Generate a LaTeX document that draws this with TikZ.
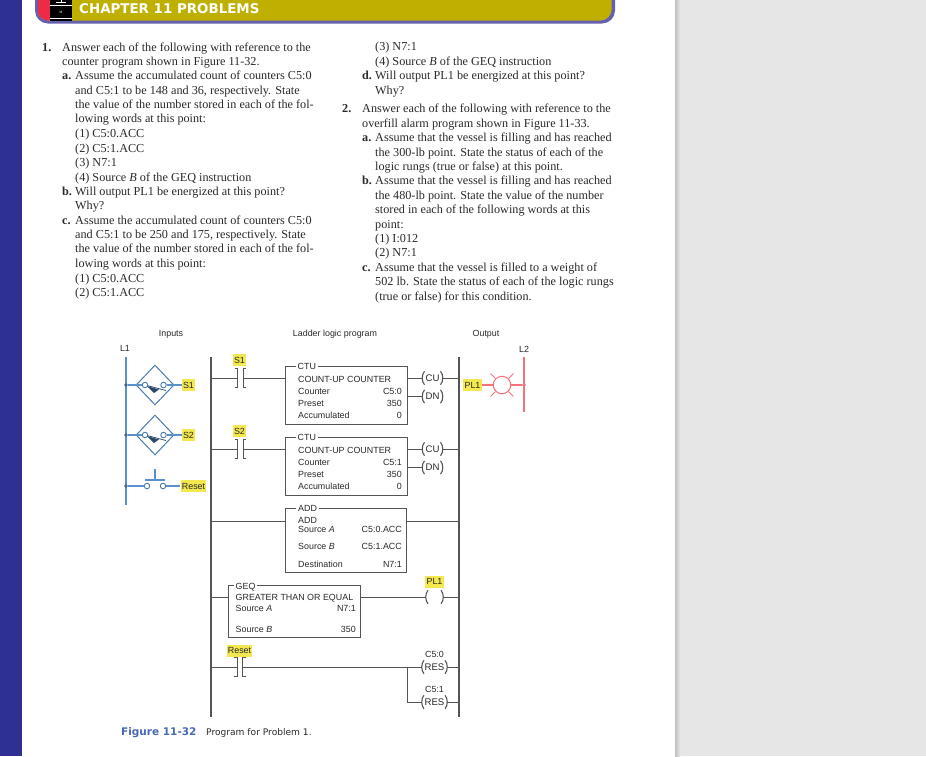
\documentclass[tikz,border=0pt]{standalone}
\usepackage{fontspec}
\setmainfont{Liberation Serif}
\setsansfont{Liberation Sans}
\newfontfamily\headfont{DejaVu Sans}
\usetikzlibrary{shapes.geometric}
\definecolor{bandblue}{HTML}{2E3192}
\definecolor{pagegray}{HTML}{E6E6E6}
\definecolor{headolive}{HTML}{BFB000}
\definecolor{headrim}{HTML}{6561AE}
\definecolor{headred}{HTML}{EE2B47}
\definecolor{wireblue}{HTML}{5A90CC}
\definecolor{wirered}{HTML}{F4737A}
\definecolor{wiregray}{HTML}{555555}
\definecolor{tagyellow}{HTML}{F3E84F}
\definecolor{inktext}{HTML}{2A2A2A}
\tikzset{
  x=1pt,y=-1pt,
  bodyline/.style={anchor=base west,yshift=-4,inner sep=0,text=inktext,font=\fontsize{12.2}{14}\selectfont},
  boldline/.style={bodyline,font=\fontsize{12.2}{14}\selectfont\bfseries},
  smalltext/.style={inner sep=0,text=inktext,font=\sffamily\fontsize{8.9}{10}\selectfont},
  rowleft/.style={smalltext,anchor=base west,yshift=-3.2},
  rowright/.style={smalltext,anchor=base east,yshift=-3.2},
  tag/.style={smalltext,fill=tagyellow,inner xsep=1.3,inner ysep=0,minimum height=12},
  rung/.style={draw=wiregray,line width=.95pt},
  rail/.style={draw=wiregray,line width=1.1pt},
  bluewire/.style={draw=wireblue,line width=1.1pt},
  redwire/.style={draw=wirered,line width=1.1pt},
  instbox/.style={rung,inner sep=0},
  boxtitle/.style={rowleft,fill=white,inner xsep=2},
  terminal/.style={circle,draw=wireblue!85!black,fill=white,line width=.9pt,inner sep=0,minimum size=5.5},
  bluedot/.style={circle,fill=#1,inner sep=0,minimum size=3.6},
  flowbox/.style={diamond,draw=wireblue!85!black,line width=1pt,inner sep=0,minimum width=38,minimum height=40},
  coiltext/.style={smalltext,font=\sffamily\fontsize{9.6}{10}\selectfont,minimum height=13},
}
% relay contact
\newcommand{\contact}[3]{
  \node[inner sep=0,minimum width=5,minimum height=18] (#1) at (#2,#3) {};
  \draw[rung] (#1.north west) ++(-3,0) -- (#1.north west) -- (#1.south west) -- ++(-3,0);
  \draw[rung] (#1.north east) ++(3,0) -- (#1.north east) -- (#1.south east) -- ++(3,0);
}
% output coil
\newcommand{\coil}[5]{
  \node[coiltext,minimum width=#5] (#1) at (#2,#3) {#4};
  \draw[rung,line width=1.1pt] ([xshift=2.2]#1.north west) .. controls +(-3,3) and +(-3,-3) .. ([xshift=2.2]#1.south west);
  \draw[rung,line width=1.1pt] ([xshift=-2.2]#1.north east) .. controls +(3,3) and +(3,-3) .. ([xshift=-2.2]#1.south east);
}
% flow switch
\newcommand{\flowswitch}[2]{
  \node[flowbox] (fs#1) at (155,#2) {};
  \node[bluedot=wireblue!70!black] (dot#1) at (126,#2) {};
  \node[terminal] (fsa#1) at (145,#2) {};
  \node[terminal] (fsb#1) at (163.5,#2) {};
  \node[tag] (sw#1) at (188.5,#2) {S#1};
  \draw[bluewire] (dot#1) -- (fsa#1);
  \draw[bluewire] (fsb#1) -- (sw#1);
  \draw[draw=wireblue!60!black,line width=.8pt] (fsa#1) -- (166,#2+5.5);
  \fill[wireblue!50!black] (147,#2+1) -- (159,#2+4.5) -- (154,#2+8) -- cycle;
}

\begin{document}
\begin{tikzpicture}
  \useasboundingbox (0,0) rectangle (926,756);
  \fill[white] (0,0) rectangle (926,756);
  \fill[bandblue] (0,0) rectangle (22,756);
  \fill[pagegray] (675,0) rectangle (926,756);
  \shade[left color=black!25,right color=pagegray] (675,0) rectangle (680,756);

  % chapter heading
  \begin{scope}
    \clip (0,0) rectangle (926,756);
    \fill[headrim,rounded corners=13] (35,-20) rectangle (615,23.5);
    \begin{scope}
      \clip[rounded corners=11] (37.5,-20) rectangle (611.5,20.5);
      \fill[headolive] (37.5,-20) rectangle (611.5,20.5);
      \fill[headred] (37.5,-20) rectangle (50,20.5);
    \end{scope}
    \fill[black] (50,0) rectangle (72,20.5);
    \draw[white,line width=.6pt] (50,5.5) -- (72,5.5) (50,18.5) -- (72,18.5) (61,0) -- (61,2.5);
    \draw[white,line width=.6pt] (56,2.5) -- (66,2.5);
    \node[inner sep=0,text=white,font=\fontsize{3.5}{4}\selectfont] (hm) at (61,12) {M};
  \end{scope}
  \node[anchor=west,inner sep=0,text=white,font=\headfont\bfseries\fontsize{13.4}{15}\selectfont] (head) at (79,8.5) {CHAPTER 11 PROBLEMS};

  % left column
  \node[boldline] (n1) at (42,47) {1.};
  \node[bodyline] (a1) at (62,47) {Answer each of the following with reference to the};
  \node[bodyline] (a2) at (62,61) {counter program shown in Figure 11-32.};
  \node[boldline] (la) at (62,75.5) {a.};
  \node[boldline] (lb) at (62,191) {b.};
  \node[boldline] (lc) at (62,220) {c.};
  \foreach \y/\txt in {
    75.5/{Assume the accumulated count of counters C5:0},
    90/{and C5:1 to be 148 and 36, respectively. State},
    104/{the value of the number stored in each of the fol-},
    118.5/{lowing words at this point:},
    133/{(1) C5:0.ACC},
    148/{(2) C5:1.ACC},
    162/{(3) N7:1},
    177/{(4) Source \textit{B} of the GEQ instruction},
    191/{Will output PL1 be energized at this point?},
    205.5/{Why?},
    220/{Assume the accumulated count of counters C5:0},
    234/{and C5:1 to be 250 and 175, respectively. State},
    248.5/{the value of the number stored in each of the fol-},
    263/{lowing words at this point:},
    278/{(1) C5:0.ACC},
    292/{(2) C5:1.ACC}}
    \node[bodyline] (lt\y) at (75,\y) {\txt};

  % right column
  \node[boldline] (n2) at (342,108.5) {2.};
  \node[bodyline] (b1) at (362,108.5) {Answer each of the following with reference to the};
  \node[bodyline] (b2) at (362,123) {overfill alarm program shown in Figure 11-33.};
  \node[boldline] (rd) at (362,75.5) {d.};
  \node[boldline] (ra) at (362,137.5) {a.};
  \node[boldline] (rb) at (362,180.5) {b.};
  \node[boldline] (rc) at (362,267) {c.};
  \foreach \y/\txt in {
    46.5/{(3) N7:1},
    61/{(4) Source \textit{B} of the GEQ instruction},
    75.5/{Will output PL1 be energized at this point?},
    90/{Why?},
    137.5/{Assume that the vessel is filling and has reached},
    152/{the 300-lb point. State the status of each of the},
    166/{logic rungs (true or false) at this point.},
    180.5/{Assume that the vessel is filling and has reached},
    195/{the 480-lb point. State the value of the number},
    209.5/{stored in each of the following words at this},
    224/{point:},
    238/{(1) I:012},
    252.5/{(2) N7:1},
    267/{Assume that the vessel is filled to a weight of},
    281.5/{502 lb. State the status of each of the logic rungs},
    296/{(true or false) for this condition.}}
    \node[bodyline] (rt\y) at (375,\y) {\txt};

  % column heads
  \node[smalltext] (inputs) at (171,334) {Inputs};
  \node[smalltext] (ladder) at (335,334) {Ladder logic program};
  \node[smalltext] (output) at (486,334) {Output};
  \node[smalltext] (L1) at (125,348.5) {L1};
  \node[smalltext] (L2) at (524,349) {L2};

  % input side
  \coordinate (bluetop) at (126,357);
  \coordinate (blueend) at (126,505);
  \draw[bluewire] (bluetop) -- (blueend);
  \flowswitch{1}{385}
  \flowswitch{2}{435}
  \node[bluedot=wireblue!70!black] (dot3) at (126,486) {};
  \node[terminal] (pba) at (147,486) {};
  \node[terminal] (pbb) at (163,486) {};
  \node[tag] (swr) at (193.5,486) {Reset};
  \coordinate (pbbar) at (155,480);
  \coordinate (pbtop) at (155,469);
  \draw[bluewire] (dot3) -- (pba);
  \draw[bluewire] (pbb) -- (swr);
  \draw[bluewire] (pbbar) -- (pbtop);
  \draw[bluewire] ([xshift=-10]pbbar) -- ([xshift=10]pbbar);

  % rails
  \coordinate (ltop) at (211,357);
  \coordinate (lbot) at (211,717);
  \coordinate (rtop) at (459,357);
  \coordinate (rbot) at (459,717);
  \draw[rail] (ltop) -- (lbot);
  \draw[rail] (rtop) -- (rbot);

  % counters
  \foreach \n/\top/\cnt in {1/366/C5:0,2/437/C5:1} {
    \node[instbox,minimum width=122,minimum height=58] (ctu\n) at (346,\top+29) {};
    \node[boxtitle] (ctut\n) at (295.5,\top) {CTU};
    \node[rowleft] (ctua\n) at (298,\top+13) {COUNT-UP COUNTER};
    \node[rowleft] (ctub\n) at (298,\top+25) {Counter};
    \node[rowleft] (ctuc\n) at (298,\top+37) {Preset};
    \node[rowleft] (ctud\n) at (298,\top+49) {Accumulated};
    \node[rowright] (ctue\n) at (402,\top+25) {\cnt};
    \node[rowright] (ctuf\n) at (402,\top+37) {350};
    \node[rowright] (ctug\n) at (402,\top+49) {0};
    \contact{con\n}{240.5}{\top+12}
    \node[tag] (cont\n) at (239.5,\top-6) {S\n};
    \draw[rung] (ltop |- con\n) -- (con\n.west);
    \draw[rung] (con\n.east) -- (ctu\n.west |- con\n);
    \coil{cu\n}{432.5}{\top+12}{CU}{20}
    \coil{dn\n}{432.5}{\top+30.5}{DN}{20}
    \draw[rung] (ctu\n.east |- cu\n) -- (cu\n.west);
    \draw[rung] (cu\n.east) -- (rtop |- cu\n);
    \draw[rung] (ctu\n.east |- dn\n) -- (dn\n.west);
  }

  % ADD
  \node[instbox,minimum width=121,minimum height=64] (add) at (345.5,540) {};
  \node[boxtitle] (addt) at (296,508.5) {ADD};
  \node[rowleft] (adda) at (298,520) {ADD};
  \node[rowleft] (addb) at (298,529) {Source \textit{A}};
  \node[rowleft] (addc) at (298,546) {Source \textit{B}};
  \node[rowleft] (addd) at (298,564) {Destination};
  \node[rowright] (adde) at (402,529) {C5:0.ACC};
  \node[rowright] (addf) at (402,546) {C5:1.ACC};
  \node[rowright] (addg) at (402,564) {N7:1};
  \coordinate (addy) at (285,521);
  \draw[rung] (ltop |- addy) -- (addy);
  \draw[rung] (add.east |- addy) -- (rtop |- addy);

  % GEQ
  \node[instbox,minimum width=132,minimum height=52] (geq) at (294,611) {};
  \node[boxtitle] (geqt) at (233.5,586) {GEQ};
  \node[rowleft] (geqa) at (235.5,597) {GREATER THAN OR EQUAL};
  \node[rowleft] (geqb) at (235.5,608) {Source \textit{A}};
  \node[rowleft] (geqc) at (235.5,629) {Source \textit{B}};
  \node[rowright] (geqd) at (356,608) {N7:1};
  \node[rowright] (geqe) at (356,629) {350};
  \coil{pl}{434.5}{597}{}{17}
  \node[tag] (plt) at (434.5,581.5) {PL1};
  \draw[rung] (ltop |- pl) -- (geq.west |- pl);
  \draw[rung] (geq.east |- pl) -- (pl.west);
  \draw[rung] (pl.east) -- (rtop |- pl);

  % reset rung
  \contact{conr}{240}{667}
  \node[tag] (contr) at (239.5,650.5) {Reset};
  \coil{res1}{434.5}{667}{RES}{25}
  \coil{res2}{434.5}{702}{RES}{25}
  \node[smalltext] (resl1) at (434.5,654) {C5:0};
  \node[smalltext] (resl2) at (434.5,689) {C5:1};
  \coordinate (branch) at (407,667);
  \draw[rung] (ltop |- conr) -- (conr.west);
  \draw[rung] (conr.east) -- (res1.west);
  \draw[rung] (res1.east) -- (rtop |- res1);
  \draw[rung] (branch) |- (res2.west);
  \draw[rung] (res2.east) -- (rtop |- res2);

  % output side
  \node[tag] (plo) at (472.5,385) {PL1};
  \node[circle,draw=wirered,line width=1pt,inner sep=0,minimum size=17.5] (lamp) at (502,385) {};
  \node[bluedot=wirered!80!black] (dotr) at (524,385) {};
  \coordinate (redtop) at (524,357);
  \coordinate (redend) at (524,412);
  \draw[redwire] (redtop) -- (redend);
  \draw[redwire] (plo) -- (lamp);
  \draw[redwire] (lamp) -- (dotr);
  \foreach \a in {45,135,225,315}
    \draw[draw=wirered,line width=.8pt] (lamp.\a) -- ++(-\a:7);

  % caption
  \node[anchor=west,inner sep=0,text=wireblue!60!bandblue,font=\headfont\bfseries\fontsize{10.5}{12}\selectfont] (figno) at (121,732.5) {Figure 11-32};
  \node[anchor=west,inner sep=0,text=inktext,font=\headfont\fontsize{9.1}{12}\selectfont] (figcap) at (206,732.5) {Program for Problem 1.};
\end{tikzpicture}
\end{document}
